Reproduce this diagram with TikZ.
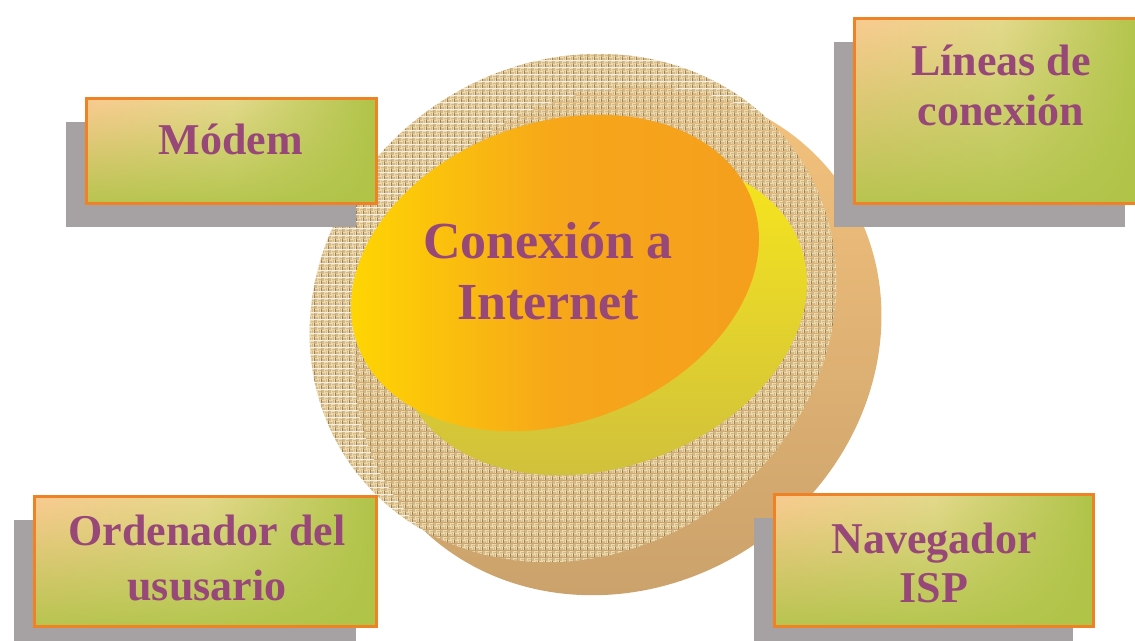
\documentclass[tikz,border=0pt]{standalone}
\usepackage{fontspec}
\setmainfont{Liberation Serif}
\usetikzlibrary{shadows,fadings,patterns}

\definecolor{boxorange}{RGB}{238,130,36}
\definecolor{boxpeach}{RGB}{250,203,145}
\definecolor{boxmid}{RGB}{228,217,140}
\definecolor{boxgreen}{RGB}{176,196,72}
\definecolor{shadowgray}{RGB}{166,162,164}
\definecolor{textmauve}{RGB}{152,72,120}
\definecolor{tanlight}{RGB}{247,196,126}
\definecolor{tandark}{RGB}{200,160,106}
\definecolor{burlapbase}{RGB}{158,128,86}
\definecolor{burlaplight}{RGB}{240,218,170}
\definecolor{ovyellow}{RGB}{255,218,0}
\definecolor{ovorange}{RGB}{245,158,30}
\definecolor{crlight}{RGB}{250,232,26}
\definecolor{crdark}{RGB}{205,190,62}

\pgfdeclarepatterninherentlycolored{weave}{\pgfpointorigin}{\pgfpoint{7pt}{7pt}}{\pgfpoint{7pt}{7pt}}{%
  \pgfsetfillcolor{burlapbase}%
  \pgfpathrectangle{\pgfpointorigin}{\pgfpoint{7pt}{7pt}}%
  \pgfusepath{fill}%
  \pgfsetfillcolor{burlaplight}%
  \pgfpathrectangle{\pgfpoint{0pt}{0.3pt}}{\pgfpoint{3.5pt}{1.3pt}}%
  \pgfpathrectangle{\pgfpoint{0pt}{2.0pt}}{\pgfpoint{3.5pt}{1.3pt}}%
  \pgfpathrectangle{\pgfpoint{3.5pt}{3.8pt}}{\pgfpoint{3.5pt}{1.3pt}}%
  \pgfpathrectangle{\pgfpoint{3.5pt}{5.5pt}}{\pgfpoint{3.5pt}{1.3pt}}%
  \pgfpathrectangle{\pgfpoint{3.8pt}{0pt}}{\pgfpoint{1.3pt}{3.5pt}}%
  \pgfpathrectangle{\pgfpoint{5.5pt}{0pt}}{\pgfpoint{1.3pt}{3.5pt}}%
  \pgfpathrectangle{\pgfpoint{0.3pt}{3.5pt}}{\pgfpoint{1.3pt}{3.5pt}}%
  \pgfpathrectangle{\pgfpoint{2.0pt}{3.5pt}}{\pgfpoint{1.3pt}{3.5pt}}%
  \pgfusepath{fill}%
}

\tikzfading[name=fadeup, top color=transparent!100, middle color=transparent!80, bottom color=transparent!10]

\begin{document}
\begin{tikzpicture}[x=1pt,y=-1pt,
  box/.style={draw=boxorange, line width=3pt, rectangle, inner sep=0pt,
    left color=boxpeach, right color=boxgreen, middle color=boxmid,
    drop shadow={shadow xshift=-21pt, shadow yshift=-23pt, fill=shadowgray, opacity=1},
    path picture={\fill[boxgreen, path fading=fadeup]
      (path picture bounding box.south west) rectangle (path picture bounding box.north east);}},
  lbl/.style={text=textmauve, anchor=base, inner sep=0pt}
]
\useasboundingbox (0,0) rectangle (1135,640);
\fill[white] (0,0) rectangle (1135,640);

% tan shadow disc
\begin{scope}[shift={(618,341)}, rotate=35]
  \shade[top color=tanlight, bottom color=tandark] (0,0) ellipse [x radius=272pt, y radius=245pt];
\end{scope}
% burlap disc
\begin{scope}[shift={(573,308)}, rotate=35]
  \fill[pattern=weave] (0,0) ellipse [x radius=272pt, y radius=245pt];
\end{scope}
% yellow crescent
\begin{scope}[shift={(603,317)}, rotate=20]
  \shade[top color=crlight, bottom color=crdark] (0,0) ellipse [x radius=210pt, y radius=150pt];
\end{scope}
% orange oval
\begin{scope}[shift={(555,273)}, rotate=20]
  \shade[left color=ovyellow, right color=ovorange, middle color=ovorange!85!ovyellow] (0,0) ellipse [x radius=210pt, y radius=150pt];
\end{scope}

\node[lbl, font=\fontsize{52}{61}\selectfont\bfseries] (center) at (548,258)
  {\begin{tabular}[t]{@{}c@{}}Conexión a\\Internet\end{tabular}};

% boxes
\node[box, minimum width=290pt, minimum height=105pt] (modembox) at (231.5,151) {};
\node[box, minimum width=291pt, minimum height=185pt] (lineasbox) at (1000,111) {};
\node[box, minimum width=342pt, minimum height=130pt] (ordbox) at (205.5,561.5) {};
\node[box, minimum width=319pt, minimum height=132pt] (navbox) at (934,560.5) {};

\node[lbl, font=\fontsize{44}{50}\selectfont\bfseries] (modem) at (231,154) {Módem};
\node[lbl, font=\fontsize{44}{50}\selectfont\bfseries] (lineas) at (1001,75)
  {\begin{tabular}[t]{@{}c@{}}Líneas de\\conexión\end{tabular}};
\node[lbl, font=\fontsize{44}{55}\selectfont\bfseries] (ord) at (207,545)
  {\begin{tabular}[t]{@{}c@{}}Ordenador del\\ususario\end{tabular}};
\node[lbl, font=\fontsize{44}{49}\selectfont\bfseries] (nav) at (934,553)
  {\begin{tabular}[t]{@{}c@{}}Navegador\\ISP\end{tabular}};
\end{tikzpicture}
\end{document}
